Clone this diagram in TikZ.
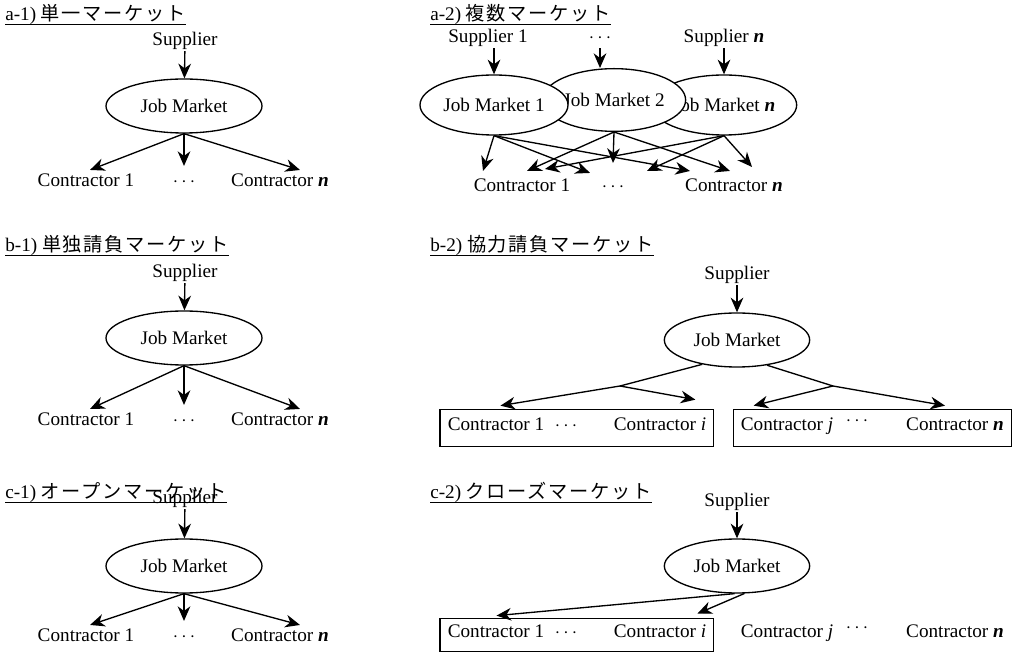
\documentclass[tikz,border=0pt]{standalone}
\usepackage{fontspec}
\setmainfont{Liberation Serif}
\newfontfamily\cjk[LetterSpace=9]{Noto Sans CJK JP}
\usetikzlibrary{arrows.meta,shapes.geometric,calc,fit}

\tikzset{
  mkt/.style={draw, ellipse, line width=1pt, fill=white, inner sep=0pt,
    minimum width=117pt, minimum height=40.5pt},
  lbl/.style={inner sep=1pt, text height=1.5ex, text depth=.6ex},
  ttl/.style={anchor=base west, inner sep=0pt, text depth=0pt},
  arr/.style={-{Stealth[length=11pt,width=9.5pt,inset=3.5pt]}, line width=1pt},
  ln/.style={line width=1pt},
  grp/.style={draw, line width=1pt, inner xsep=4.5pt, inner ysep=8pt},
}
\newcommand{\nn}{\textit{\textbf{n}}}

\begin{document}
\begin{tikzpicture}[x=0.75pt,y=-0.75pt,font=\fontsize{14.4}{17}\selectfont]
  \useasboundingbox (0,0) rectangle (1014,655);

  % headings
  \node[ttl] (a1t) at (5,21) {a-1) {\cjk 単一マーケット}};
  \node[ttl] (b1t) at (5,252) {b-1) {\cjk 単独請負マーケット}};
  \node[ttl] (c1t) at (5,499) {c-1) {\cjk オープンマーケット}};
  \node[ttl] (a2t) at (430,21) {a-2) {\cjk 複数マーケット}};
  \node[ttl] (b2t) at (430,252) {b-2) {\cjk 協力請負マーケット}};
  \node[ttl] (c2t) at (430,499) {c-2) {\cjk クローズマーケット}};
  \foreach \t in {a1t,b1t,c1t,a2t,b2t,c2t}
    \draw[line width=0.7pt] ([yshift=-2.4pt]\t.south west) -- ([yshift=-2.4pt]\t.south east);

  % a-1
  \node[lbl] (a1s) at (185,43) {Supplier};
  \node[mkt] (a1m) at (184,106) {Job Market};
  \node[lbl] (a1c1) at (86,184) {Contractor 1};
  \node[lbl] (a1d) at (184,184) {$\cdots$};
  \node[lbl] (a1cn) at (280,184) {Contractor \nn};
  \draw[arr] (a1s) -- (a1m);
  \draw[arr] (a1m.south) -- ($(a1c1.north)+(4,-6)$);
  \draw[arr] (a1m.south) -- ($(a1d.north)+(0,-10)$);
  \draw[arr] (a1m.south) -- ($(a1cn.north)+(20,-6)$);

  % b-1
  \begin{scope}[shift={(0,232)}]
  \node[lbl] (b1s) at (185,43) {Supplier};
  \node[mkt] (b1m) at (184,106) {Job Market};
  \node[lbl] (b1c1) at (86,191) {Contractor 1};
  \node[lbl] (b1d) at (184,191) {$\cdots$};
  \node[lbl] (b1cn) at (280,191) {Contractor \nn};
  \draw[arr] (b1s) -- (b1m);
  \draw[arr] (b1m.south) -- ($(b1c1.north)+(4,-6)$);
  \draw[arr] (b1m.south) -- ($(b1d.north)+(0,-10)$);
  \draw[arr] (b1m.south) -- ($(b1cn.north)+(20,-6)$);
  \end{scope}

  % c-1
  \begin{scope}[shift={(0,458)}]
  \node[lbl] (c1s) at (185,43) {Supplier};
  \node[mkt] (c1m) at (184,108) {Job Market};
  \node[lbl] (c1c1) at (86,181) {Contractor 1};
  \node[lbl] (c1d) at (184,181) {$\cdots$};
  \node[lbl] (c1cn) at (280,181) {Contractor \nn};
  \draw[arr] (c1s) -- (c1m);
  \draw[arr] (c1m.south) -- ($(c1c1.north)+(4,-6)$);
  \draw[arr] (c1m.south) -- ($(c1d.north)+(0,-10)$);
  \draw[arr] (c1m.south) -- ($(c1cn.north)+(20,-6)$);
  \end{scope}

  % a-2
  \node[lbl] (a2s1) at (488,40) {Supplier 1};
  \node[lbl] (a2sd) at (600,40) {$\cdots$};
  \node[lbl] (a2sn) at (724,40) {Supplier \nn};
  \node[mkt, minimum width=109pt, minimum height=45pt] (a2mn) at (724,105) {Job Market \nn};
  \node[mkt, minimum width=106pt, minimum height=47pt] (a2m2) at (614,100) {Job Market 2};
  \node[mkt, minimum width=111pt, minimum height=45pt] (a2m1) at (494,105) {Job Market 1};
  \node[lbl] (a2c1) at (522,189) {Contractor 1};
  \node[lbl] (a2cd) at (613,189) {$\cdots$};
  \node[lbl] (a2cn) at (734,189) {Contractor \nn};
  \draw[arr] (a2s1.south -| a2m1.north) -- (a2m1.north);
  \draw[arr] (a2sd.south) -- (a2sd.south |- a2m2.north);
  \draw[arr] (a2sn.south -| a2mn.north) -- (a2mn.north);
  \draw[arr] (a2m1.south) -- ($(a2c1.north)+(-39,-10)$);
  \draw[arr] (a2m1.south) -- ($(a2cd.north)+(-23,-8)$);
  \draw[arr] (a2m1.south) -- ($(a2cn.north)+(-44,-10)$);
  \draw[arr] (a2m2.south) -- ($(a2c1.north)+(5,-10)$);
  \draw[arr] (a2m2.south) -- ($(a2cd.north)+(0,-18)$);
  \draw[arr] (a2m2.south) -- ($(a2cn.north)+(-4,-10)$);
  \draw[arr] (a2mn.south) -- ($(a2c1.north)+(23,-12)$);
  \draw[arr] (a2mn.south) -- ($(a2cd.north)+(34,-10)$);
  \draw[arr] (a2mn.south) -- ($(a2cn.north)+(18,-14)$);

  % b-2
  \node[lbl] (b2s) at (737,277) {Supplier};
  \node[mkt, minimum width=109pt] (b2m) at (737,340) {Job Market};
  \node[lbl] (b2c1) at (496,428) {Contractor 1};
  \node[lbl] (b2cd) at (566,428) {$\cdots$};
  \node[lbl] (b2ci) at (660,428) {Contractor \textit{i}};
  \node[lbl] (b2cj) at (787,428) {Contractor \textit{j}};
  \node[lbl] (b2ce) at (857,428) {\raisebox{4pt}{$\cdots$}};
  \node[lbl] (b2cn) at (955,428) {Contractor \nn};
  \node[grp, fit=(b2c1)(b2ci)] (b2g1) {};
  \node[grp, fit=(b2cj)(b2cn)] (b2g2) {};
  \coordinate (b2l) at (620,386);
  \coordinate (b2r) at (833,386);
  \draw[arr] (b2s) -- (b2m);
  \draw[ln] (b2m.215) -- (b2l);
  \draw[ln] (b2m.320) -- (b2r);
  \draw[arr] (b2l) -- ($(b2g1.north west)+(61,-3)$);
  \draw[arr] (b2l) -- ($(b2g1.north east)+(-19,-9)$);
  \draw[arr] (b2r) -- ($(b2g2.north west)+(21,-3)$);
  \draw[arr] (b2r) -- ($(b2g2.north east)+(-67,-3)$);

  % c-2
  \node[lbl] (c2s) at (737,504) {Supplier};
  \node[mkt, minimum width=109pt] (c2m) at (737,566) {Job Market};
  \node[lbl] (c2c1) at (496,635) {Contractor 1};
  \node[lbl] (c2cd) at (566,635) {$\cdots$};
  \node[lbl] (c2ci) at (660,635) {Contractor \textit{i}};
  \node[lbl] (c2cj) at (787,635) {Contractor \textit{j}};
  \node[lbl] (c2ce) at (857,635) {\raisebox{4pt}{$\cdots$}};
  \node[lbl] (c2cn) at (955,635) {Contractor \nn};
  \node[grp, inner ysep=6.5pt, fit=(c2c1)(c2ci)] (c2g1) {};
  \draw[arr] (c2s) -- (c2m);
  \draw[arr] (c2m.265) -- ($(c2g1.north west)+(57,-2)$);
  \draw[arr] (c2m.285) -- ($(c2g1.north east)+(-17,-4)$);
\end{tikzpicture}
\end{document}
